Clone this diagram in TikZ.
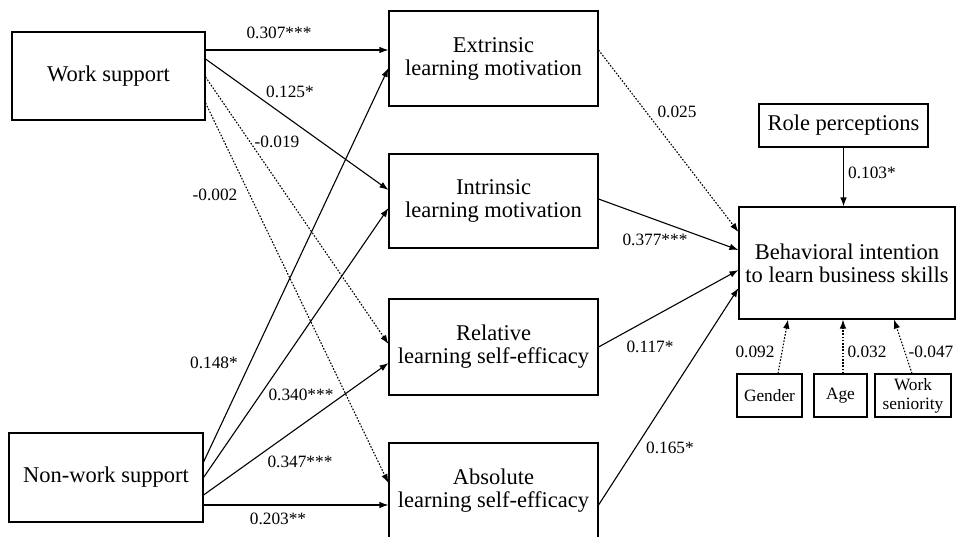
\documentclass[tikz,border=0pt]{standalone}
\usepackage{fontspec}
\setmainfont{Liberation Serif}
\usetikzlibrary{arrows.meta}
\begin{document}
\begin{tikzpicture}[x=1pt,y=-1pt,
  box/.style={draw,line width=1.1pt,inner sep=0pt,align=center,
    font=\fontsize{22.5}{23}\selectfont},
  smallbox/.style={draw,line width=1.1pt,inner sep=0pt,align=center,minimum height=43pt,
    font=\fontsize{17.3}{19}\selectfont},
  lab/.style={inner sep=0pt,font=\fontsize{17.3}{19}\selectfont},
  arr/.style={line width=1.1pt,-{Latex[length=9pt,width=6.5pt]}},
  dotarr/.style={arr,dash pattern=on 1.6pt off 1.6pt}]
\useasboundingbox (0,0) rectangle (961,536);
% nodes
\node[box,minimum width=193pt,minimum height=88pt] (ws) at (108.5,76) {Work support};
\node[box,minimum width=194pt,minimum height=89pt] (nws) at (106,477.5) {Non-work support};
\node[box,minimum width=209pt,minimum height=95pt] (ext) at (493.5,58.5) {Extrinsic\\learning motivation};
\node[box,minimum width=209pt,minimum height=94pt] (int) at (493.5,201) {Intrinsic\\learning motivation};
\node[box,minimum width=209pt,minimum height=96pt] (rel) at (493.5,347) {Relative\\learning self-efficacy};
\node[box,minimum width=209pt,minimum height=96pt] (abs) at (493.5,491) {Absolute\\learning self-efficacy};
\node[box,minimum width=216pt,minimum height=112pt] (beh) at (847,263) {Behavioral intention\\to learn business skills};
\node[box,minimum width=169pt,minimum height=43pt] (role) at (843.5,125.5) {Role perceptions};
\node[smallbox,minimum width=65pt] (gen) at (769.5,395.5) {Gender};
\node[smallbox,minimum width=53pt] (age) at (840.5,395.5) {Age};
\node[smallbox,minimum width=76pt] (sen) at (913,395.5) {Work\\seniority};
% connectors from Work support
\draw[arr] ([yshift=26pt]ws.east) -- ([yshift=8.5pt]ext.west);
\draw[arr] ([yshift=17pt]ws.east) -- ([yshift=11pt]int.west);
\draw[dotarr] ([yshift=-1pt]ws.east) -- ([yshift=3pt]rel.west);
\draw[dotarr] ([yshift=-27pt]ws.east) -- ([yshift=8pt]abs.west);
% connectors from Non-work support
\draw[arr] ([yshift=15.5pt]nws.east) -- ([yshift=-9.5pt]ext.west);
\draw[arr] ([yshift=0pt]nws.east) -- ([yshift=-7pt]int.west);
\draw[arr] ([yshift=-17.5pt]nws.east) -- ([yshift=-16pt]rel.west);
\draw[arr] ([yshift=-27.5pt]nws.east) -- ([yshift=-14pt]abs.west);
% connectors to Behavioral intention
\draw[dotarr] ([yshift=8.5pt]ext.east) -- ([yshift=31pt]beh.west);
\draw[arr] ([yshift=2pt]int.east) -- ([yshift=13pt]beh.west);
\draw[arr] (rel.east) -- ([yshift=-7pt]beh.west);
\draw[arr] ([yshift=-14pt]abs.east) -- ([yshift=-25pt]beh.west);
\draw[arr] (role.south) -- (role.south |- beh.north);
\draw[dotarr] ([xshift=8.5pt]gen.north) -- ([xshift=-59pt]beh.south);
\draw[dotarr] ([xshift=2.5pt]age.north) -- ([xshift=-4pt]beh.south);
\draw[dotarr] ([xshift=-1pt]sen.north) -- ([xshift=47pt]beh.south);
% labels
\node[lab] (l1) at (279,33) {0.307***};
\node[lab] (l2) at (290,92) {0.125*};
\node[lab] (l3) at (277,142) {-0.019};
\node[lab] (l4) at (215,195) {-0.002};
\node[lab] (l5) at (214,363) {0.148*};
\node[lab] (l6) at (301,395) {0.340***};
\node[lab] (l7) at (300,462) {0.347***};
\node[lab] (l8) at (278,519) {0.203**};
\node[lab] (l9) at (677,112) {0.025};
\node[lab] (l10) at (655,240) {0.377***};
\node[lab] (l11) at (650,347) {0.117*};
\node[lab] (l12) at (670,448) {0.165*};
\node[lab] (l13) at (872,173) {0.103*};
\node[lab] (l14) at (755,352) {0.092};
\node[lab] (l15) at (867,352) {0.032};
\node[lab] (l16) at (931,352) {-0.047};
\end{tikzpicture}
\end{document}
